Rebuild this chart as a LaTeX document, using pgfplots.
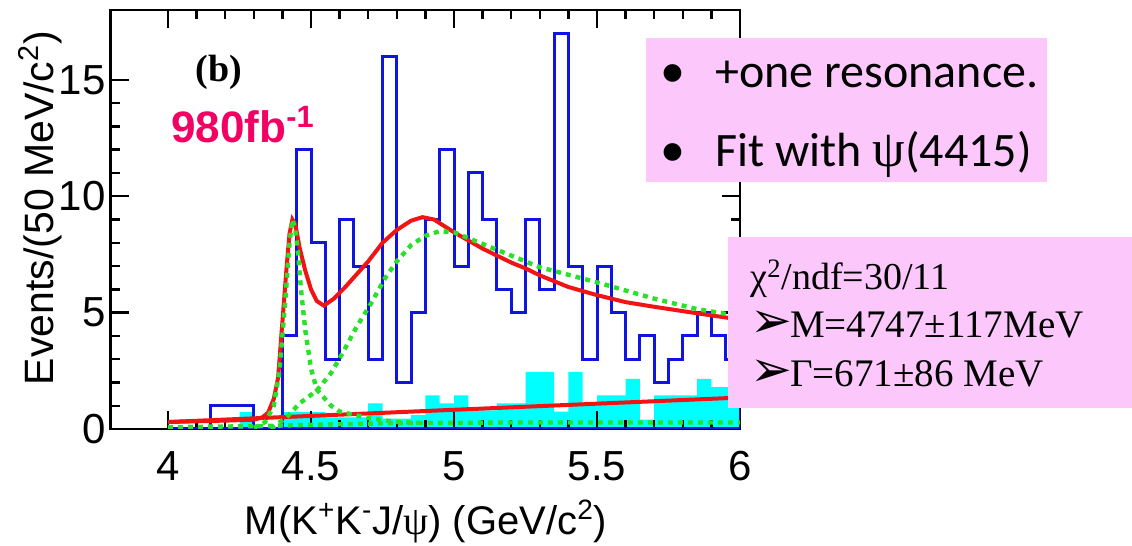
\documentclass[border=0pt]{standalone}
\usepackage{fontspec}
\setmainfont{Liberation Sans}
\newfontfamily\timesfont{Liberation Serif}
\newfontfamily\calibrifont{Carlito}
\newfontfamily\symfont{DejaVu Sans}
\usepackage{pgfplots}
\pgfplotsset{compat=1.18}

\definecolor{histblue}{RGB}{15,20,225}
\definecolor{fitred}{RGB}{240,20,20}
\definecolor{compgreen}{RGB}{40,225,40}
\definecolor{bgcyan}{RGB}{0,255,255}
\definecolor{notepink}{RGB}{252,200,252}
\definecolor{lumipink}{RGB}{242,0,100}

\newcommand{\arrowbullet}{{\symfont\fontsize{25}{28}\selectfont ➢}\kern-1pt}

\begin{document}
\begin{tikzpicture}
\begin{axis}[
  set layers,
  at={(55.4pt,58.5pt)}, anchor=south west,
  scale only axis, width=314.6pt, height=209.5pt,
  xmin=3.8, xmax=6.0, ymin=0, ymax=18,
  xtick={4,4.5,5,5.5,6}, xticklabels={4,4.5,5,5.5,6},
  minor x tick num=4,
  ytick={0,5,10,15}, yticklabels={0,5,10,15},
  minor y tick num=4,
  tick align=inside,
  major tick length=9pt, minor tick length=4.5pt,
  every tick/.append style={black, line width=1.2pt},
  axis line style={line width=1.4pt},
  ticklabel style={font=\fontsize{21}{24}\selectfont},
  xticklabel style={inner sep=0pt, yshift=-11pt},
  yticklabel style={inner sep=0pt, xshift=-2.5pt},
  /pgf/number format/assume math mode=true,
]
% background estimate (cyan, filled)
\addplot[on layer=axis background, const plot, fill=bgcyan, draw=none] coordinates {
  (4.00,0) (4.05,0) (4.10,0) (4.15,0) (4.20,0) (4.25,0.72) (4.30,0) (4.35,0)
  (4.40,0.72) (4.45,0.72) (4.50,0.72) (4.55,0.5) (4.60,0.5) (4.65,0.5)
  (4.70,1.1) (4.75,0.45) (4.80,0.45) (4.85,0.6) (4.90,1.44) (4.95,1.1)
  (5.00,1.44) (5.05,0.8) (5.10,0.8) (5.15,1.1) (5.20,1.1) (5.25,2.45)
  (5.30,2.45) (5.35,0.75) (5.40,2.45) (5.45,1.1) (5.50,1.44) (5.55,1.44)
  (5.60,2.15) (5.65,0.4) (5.70,1.44) (5.75,1.44) (5.80,1.44) (5.85,2.15)
  (5.90,1.8) (5.95,1.8) (6.00,1.8)
} \closedcycle;
% data histogram, 50 MeV bins
\addplot[const plot, draw=histblue, line width=1.5pt] coordinates {
  (4.00,0) (4.05,0) (4.10,0) (4.15,1) (4.20,1) (4.25,1) (4.30,0) (4.35,0)
  (4.40,4) (4.45,12) (4.50,8) (4.55,3) (4.60,9) (4.65,7) (4.70,3) (4.75,16)
  (4.80,2) (4.85,5) (4.90,9) (4.95,12) (5.00,7) (5.05,11) (5.10,9) (5.15,6)
  (5.20,5) (5.25,9) (5.30,6) (5.35,17) (5.40,7) (5.45,3) (5.50,7) (5.55,5)
  (5.60,3) (5.65,4) (5.70,2) (5.75,3) (5.80,4) (5.85,5) (5.90,4) (5.95,3)
  (6.00,3) (6.00,0) (4.00,0)
};
% total fit
\addplot[fitred, line width=2pt] coordinates {
  (4.00,0.30) (4.10,0.33) (4.20,0.36) (4.30,0.40) (4.33,0.5) (4.35,0.7)
  (4.37,1.3) (4.385,2.2) (4.40,4.6) (4.415,7.0) (4.425,8.4) (4.435,9.0)
  (4.445,8.8) (4.46,7.8) (4.48,6.8) (4.50,6.0) (4.52,5.5) (4.545,5.3)
  (4.58,5.6) (4.62,6.1) (4.66,6.65) (4.70,7.2) (4.75,8.0) (4.80,8.55)
  (4.85,8.95) (4.89,9.1) (4.93,9.0) (5.00,8.45) (5.05,8.1) (5.10,7.75)
  (5.15,7.45) (5.20,7.15) (5.25,6.9) (5.30,6.6) (5.40,6.1) (5.50,5.75)
  (5.60,5.45) (5.70,5.25) (5.85,4.97) (6.00,4.7)
};
% linear background
\addplot[fitred, line width=2pt] coordinates {(4.00,0.30) (6.00,1.35)};
% psi(4415) component
\addplot[compgreen, line width=2.2pt, dash pattern=on 2.5pt off 2.5pt] coordinates {
  (4.30,0.05) (4.34,0.3) (4.37,1.0) (4.39,2.5) (4.41,5.5) (4.425,8.0)
  (4.435,9.0) (4.445,8.6) (4.455,7.5) (4.465,6.0) (4.48,4.25) (4.50,2.6)
  (4.52,1.7) (4.57,1.0) (4.60,0.75) (4.70,0.47) (4.80,0.3) (4.90,0.25)
};
% new resonance component
\addplot[compgreen, line width=2.2pt, dash pattern=on 2.5pt off 2.5pt] coordinates {
  (4.36,0.0) (4.38,0.2) (4.415,0.5) (4.46,1.1) (4.52,1.65) (4.57,2.4)
  (4.61,3.25) (4.66,4.4) (4.71,5.4) (4.76,6.5) (4.80,7.2) (4.85,7.9)
  (4.90,8.3) (4.95,8.5) (5.00,8.45) (5.05,8.2) (5.15,7.7) (5.30,6.95)
  (5.50,6.3) (5.70,5.6) (5.85,5.15) (6.00,4.85)
};
% non-resonant component
\addplot[compgreen, line width=2.2pt, dash pattern=on 2.5pt off 2.5pt] coordinates {
  (4.00,0.08) (4.30,0.12) (4.50,0.18) (4.80,0.25) (5.20,0.28) (6.00,0.28)
};
\end{axis}

\begin{scope}[x=0.5pt, y=-0.5pt, shift={(0pt,273pt)}]
  % panel tag and luminosity
  \node[anchor=base west, inner sep=0pt, font=\timesfont\bfseries\fontsize{19}{22}\selectfont] at (195,82) {(b)};
  \node[anchor=base west, inner sep=0pt, text=lumipink, font=\bfseries\fontsize{22}{26}\selectfont] at (171,143) {980fb\textsuperscript{-1}};

  % axis titles
  \node[anchor=base, inner sep=0pt, font=\fontsize{20}{24}\selectfont] at (426,535)
    {M(K\textsuperscript{+}K\textsuperscript{-}J/{\timesfont ψ}) (GeV/c\textsuperscript{2})};
  \node[rotate=90, anchor=base, inner sep=0pt, font=\fontsize{20.5}{24}\selectfont] at (54,208)
    {Events/(50 MeV/c\textsuperscript{2})};

  % fit notes
  \fill[notepink] (646,38) rectangle (1047,182);
  \node[anchor=base, inner sep=0pt, font=\calibrifont\fontsize{25}{28}\selectfont] at (673,88) {•};
  \node[anchor=base west, inner sep=0pt, font=\calibrifont\fontsize{24}{28}\selectfont] at (715,88) {+one resonance.};
  \node[anchor=base, inner sep=0pt, font=\calibrifont\fontsize{25}{28}\selectfont] at (673,167) {•};
  \node[anchor=base west, inner sep=0pt, font=\calibrifont\fontsize{24}{28}\selectfont] at (715,167) {Fit with {\timesfont\fontsize{26}{28}\selectfont ψ}(4415)};

  \fill[notepink] (728,237) rectangle (1132,408);
  \node[anchor=base west, inner sep=0pt, font=\timesfont\fontsize{19}{22}\selectfont] at (750,290) {χ\textsuperscript{2}/ndf=30/11};
  \node[anchor=base west, inner sep=0pt, font=\timesfont\fontsize{19.5}{22}\selectfont] at (750,338) {\arrowbullet M=4747±117MeV};
  \node[anchor=base west, inner sep=0pt, font=\timesfont\fontsize{19.5}{22}\selectfont] at (750,387) {\arrowbullet Γ=671±86 MeV};
\end{scope}

\pgfresetboundingbox
\useasboundingbox (0pt,0pt) rectangle (566pt,273pt);
\end{tikzpicture}
\end{document}
